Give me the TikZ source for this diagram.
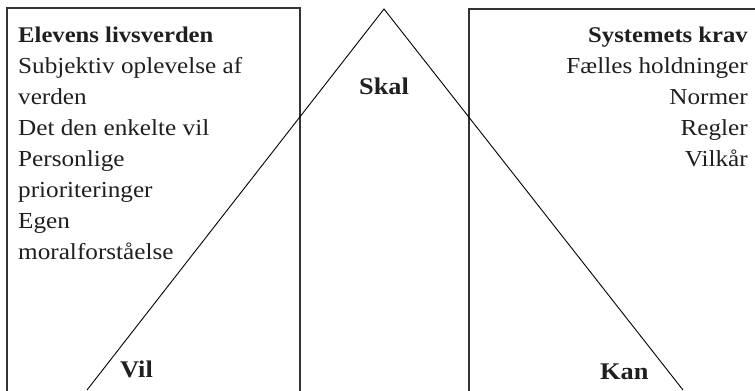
\documentclass[tikz,border=0pt]{standalone}
\usepackage{fontspec}
\setmainfont{Liberation Serif}[FakeStretch=1.10]
\begin{document}
\begin{tikzpicture}[x=1bp,y=-1bp,
  boxline/.style={draw=black!80,line width=1.2bp},
  triline/.style={draw=black,line width=0.9bp},
  txt/.style={inner sep=0pt,text=black!88,font=\fontsize{23}{28}\selectfont},
  head/.style={txt,font=\fontsize{22.5}{28}\selectfont\bfseries},
  lbl/.style={txt,font=\fontsize{24}{28}\selectfont\bfseries}]
\useasboundingbox (0,0) rectangle (755,390);
\clip (0,0) rectangle (755,390);
% boxes
\draw[boxline] (7,400) -- (7,8) -- (300,8) -- (300,400);
\draw[boxline] (469,400) -- (469,9) -- (770,9);
% triangle
\coordinate (apex) at (384,9);
\coordinate (bl) at (87,390);
\coordinate (br) at (683,390);
\draw[triline] (bl) -- (apex) -- (br);
% left text
\node[head,anchor=base west] (l0) at (18,42) {Elevens livsverden};
\node[txt,anchor=base west] (l1) at (18,73) {Subjektiv oplevelse af};
\node[txt,anchor=base west] (l2) at (18,104) {verden};
\node[txt,anchor=base west] (l3) at (18,135) {Det den enkelte vil};
\node[txt,anchor=base west] (l4) at (18,166) {Personlige};
\node[txt,anchor=base west] (l5) at (18,197) {prioriteringer};
\node[txt,anchor=base west] (l6) at (18,228) {Egen};
\node[txt,anchor=base west] (l7) at (18,259) {moralforståelse};
% right text
\node[head,anchor=base east] (r0) at (748,42) {Systemets krav};
\node[txt,anchor=base east] (r1) at (748,73) {Fælles holdninger};
\node[txt,anchor=base east] (r2) at (748,104) {Normer};
\node[txt,anchor=base east] (r3) at (748,135) {Regler};
\node[txt,anchor=base east] (r4) at (748,166) {Vilkår};
% labels
\node[lbl,anchor=base] (skal) at (384,94) {Skal};
\node[lbl,anchor=base west] (vil) at (120,377) {Vil};
\node[lbl,anchor=base west] (kan) at (600,379) {Kan};
\end{tikzpicture}
\end{document}
